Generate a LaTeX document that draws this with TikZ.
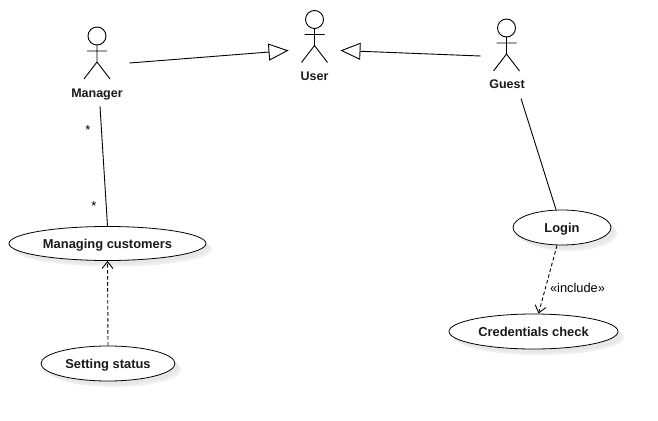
\documentclass[tikz,border=0pt]{standalone}
\usepackage{fontspec}
\setmainfont{Liberation Sans}
\usetikzlibrary{arrows.meta,shapes.geometric,shadows}
\tikzset{
  x=1pt,y=-1pt,
  every path/.append style={line width=0.9pt},
  usecase/.style={draw,ellipse,fill=white,inner sep=0pt,line width=0.8pt,
    text height=9pt,text depth=0pt,
    font=\fontsize{12.9}{15}\bfseries,text=black!90,
    general shadow={shadow xshift=6pt,shadow yshift=-6pt,fill=black!6},
    general shadow={shadow xshift=4pt,shadow yshift=-4pt,fill=black!9}},
  actorbox/.style={rectangle,inner sep=0pt},
  actorlabel/.style={inner sep=0pt,text height=9pt,text depth=0pt,font=\fontsize{12.5}{15}\bfseries,text=black!90},
  multi/.style={inner sep=0pt,font=\fontsize{13}{15}\selectfont},
  stereo/.style={inner sep=0pt,font=\fontsize{12.8}{15}\selectfont},
  general/.style={-{Triangle[open,fill=white,length=20pt,width=17pt]}},
  dep/.style={dash pattern=on 3.5pt off 2.5pt,-{Straight Barb[length=7pt,width=11pt]}},
  actor/.pic={
    \draw (0,0) circle (9);
    \draw (0,9) -- (0,26) (-10,15) -- (10,15) (0,26) -- (-13,43) (0,26) -- (13,43);
  }
}
\begin{document}
\begin{tikzpicture}
\useasboundingbox[fill=white] (0,0) rectangle (658,420);
% actors (invisible boxes give connector anchors)
\node[actorbox,minimum width=64pt,minimum height=86pt] (manager) at (97,63) {};
\node[actorbox,minimum width=51pt,minimum height=91pt] (user) at (314.5,50.5) {};
\node[actorbox,minimum width=52pt,minimum height=84pt] (guest) at (507,56) {};
\pic at (97,36) {actor};
\pic at (314.5,19.5) {actor};
\pic at (506.5,28) {actor};
\node[actorlabel] (managerlabel) at (97,92.8) {Manager};
\node[actorlabel] (userlabel) at (314.5,76.5) {User};
\node[actorlabel] (guestlabel) at (507,84) {Guest};
% use cases
\node[usecase,minimum width=197pt,minimum height=34pt] (mc) at (107.5,243.5) {Managing customers};
\node[usecase,minimum width=134pt,minimum height=35pt] (ss) at (108,363.5) {Setting status};
\node[usecase,minimum width=98pt,minimum height=35pt] (login) at (562,227.5) {Login};
\node[usecase,minimum width=169pt,minimum height=35pt] (cred) at (533.5,331.5) {Credentials check};
% connectors
\draw[general] (manager.east) -- (user.west);
\draw[general] (guest.west) -- (user.east);
\draw ([xshift=3pt]manager.south) -- (mc.north);
\draw ([xshift=14pt]guest.south) -- ([xshift=-6pt]login.north);
\draw[dep] (ss.north) -- (mc.south);
\draw[dep] ([xshift=-5pt]login.south) -- ([xshift=5pt]cred.north);
% labels
\node[multi] (star1) at (88,130) {*};
\node[multi] (star2) at (94,206) {*};
\node[stereo] (incl) at (577.5,288) {«include»};
\end{tikzpicture}
\end{document}
